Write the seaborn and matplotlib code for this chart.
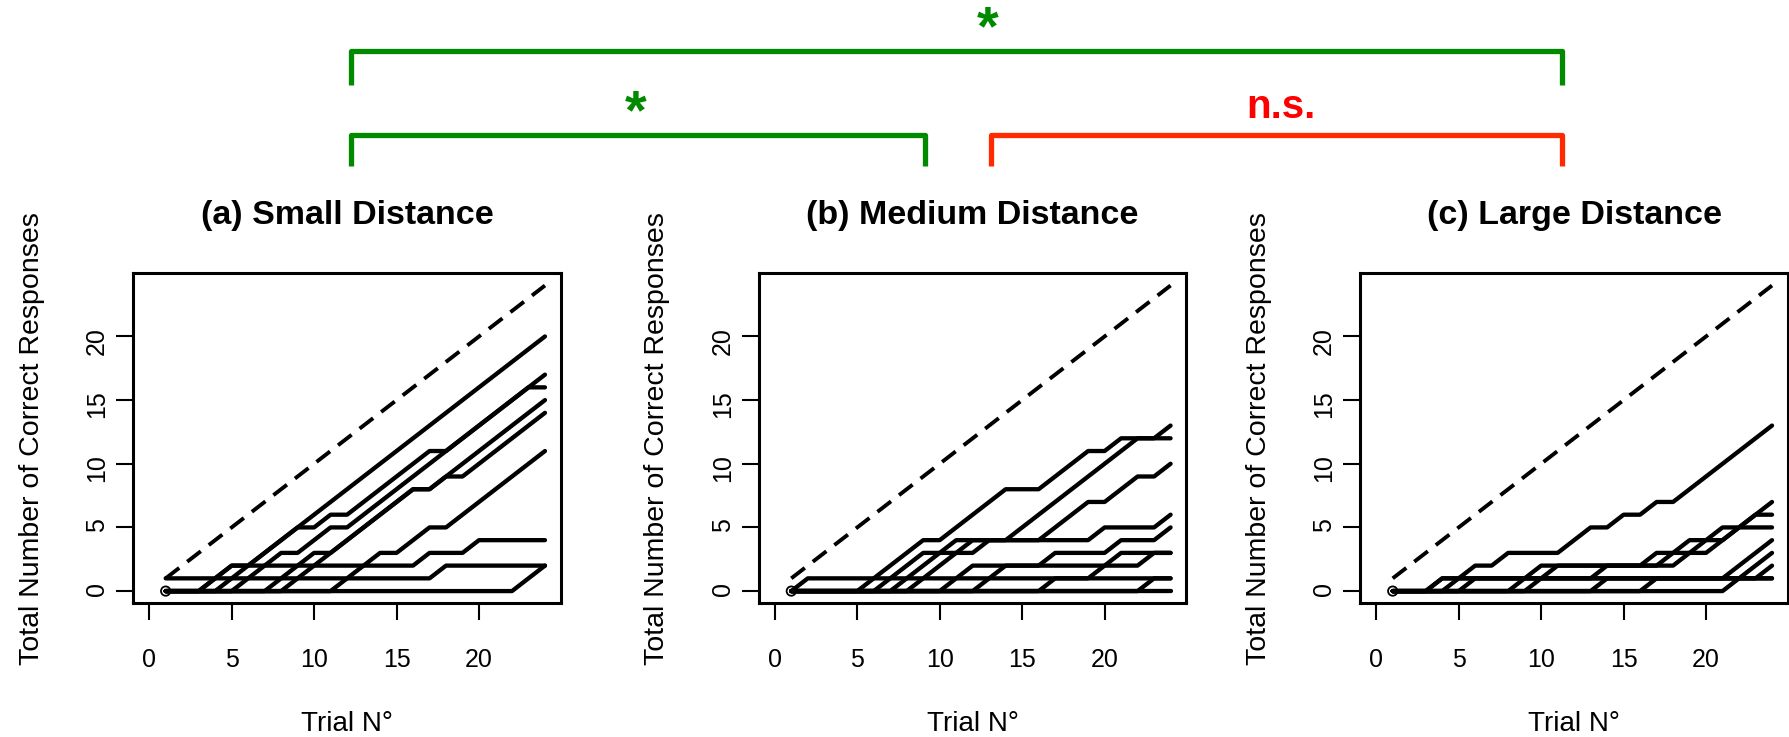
import matplotlib
matplotlib.use("Agg")
from matplotlib import pyplot as plt
import pandas as pd
import seaborn as sns

# trial numbers and the "always correct" reference line
trials = [1, 2, 3, 4, 5, 6, 7, 8, 9, 10, 11, 12, 13, 14, 15, 16, 17, 18, 19, 20, 21, 22, 23, 24]
optimal = [1, 2, 3, 4, 5, 6, 7, 8, 9, 10, 11, 12, 13, 14, 15, 16, 17, 18, 19, 20, 21, 22, 23, 24]
origin_trial = [1]
origin_score = [0]

# cumulative correct responses per subject
small = [
    [0, 0, 0, 0, 1, 2, 3, 4, 5, 6, 7, 8, 9, 10, 11, 12, 13, 14, 15, 16, 17, 18, 19, 20],
    [0, 0, 0, 1, 2, 2, 3, 4, 5, 5, 6, 6, 7, 8, 9, 10, 11, 11, 12, 13, 14, 15, 16, 17],
    [0, 0, 0, 0, 0, 1, 2, 3, 3, 4, 5, 5, 6, 7, 8, 9, 10, 11, 12, 13, 14, 15, 16, 16],
    [0, 0, 0, 0, 0, 0, 0, 1, 2, 3, 3, 4, 5, 6, 7, 8, 8, 9, 10, 11, 12, 13, 14, 15],
    [0, 0, 0, 0, 0, 0, 0, 0, 1, 2, 3, 4, 5, 6, 7, 8, 8, 9, 9, 10, 11, 12, 13, 14],
    [0, 0, 0, 0, 0, 0, 0, 0, 0, 0, 0, 1, 2, 3, 3, 4, 5, 5, 6, 7, 8, 9, 10, 11],
    [0, 0, 0, 1, 2, 2, 2, 2, 2, 2, 2, 2, 2, 2, 2, 2, 3, 3, 3, 4, 4, 4, 4, 4],
    [1, 1, 1, 1, 1, 1, 1, 1, 1, 1, 1, 1, 1, 1, 1, 1, 1, 2, 2, 2, 2, 2, 2, 2],
    [0, 0, 0, 0, 0, 0, 0, 0, 0, 0, 0, 0, 0, 0, 0, 0, 0, 0, 0, 0, 0, 0, 1, 2],
]
medium = [
    [0, 0, 0, 0, 0, 1, 2, 3, 4, 4, 5, 6, 7, 8, 8, 8, 9, 10, 11, 11, 12, 12, 12, 13],
    [0, 0, 0, 0, 0, 0, 1, 2, 3, 3, 3, 3, 4, 4, 5, 6, 7, 8, 9, 10, 11, 12, 12, 12],
    [0, 0, 0, 0, 0, 0, 0, 0, 1, 2, 3, 4, 4, 4, 4, 4, 5, 6, 7, 7, 8, 9, 9, 10],
    [0, 0, 0, 0, 0, 0, 0, 1, 2, 3, 4, 4, 4, 4, 4, 4, 4, 4, 4, 5, 5, 5, 5, 6],
    [0, 0, 0, 0, 0, 0, 0, 0, 0, 0, 1, 2, 2, 2, 2, 2, 3, 3, 3, 3, 4, 4, 4, 5],
    [0, 0, 0, 0, 0, 0, 0, 0, 0, 0, 0, 0, 1, 2, 2, 2, 2, 2, 2, 2, 2, 2, 3, 3],
    [0, 0, 0, 0, 0, 0, 0, 0, 0, 0, 0, 0, 0, 0, 0, 0, 1, 1, 1, 2, 3, 3, 3, 3],
    [0, 1, 1, 1, 1, 1, 1, 1, 1, 1, 1, 1, 1, 1, 1, 1, 1, 1, 1, 1, 1, 1, 1, 1],
    [0, 0, 0, 0, 0, 0, 0, 0, 0, 0, 0, 0, 0, 0, 0, 0, 0, 0, 0, 0, 0, 0, 1, 1],
    [0, 0, 0, 0, 0, 0, 0, 0, 0, 0, 0, 0, 0, 0, 0, 0, 0, 0, 0, 0, 0, 0, 0, 0],
]
large = [
    [0, 0, 0, 1, 1, 2, 2, 3, 3, 3, 3, 4, 5, 5, 6, 6, 7, 7, 8, 9, 10, 11, 12, 13],
    [0, 0, 0, 0, 0, 0, 0, 0, 0, 1, 2, 2, 2, 2, 2, 2, 3, 3, 3, 3, 4, 5, 6, 7],
    [0, 0, 0, 0, 1, 1, 1, 1, 1, 1, 1, 1, 1, 2, 2, 2, 2, 2, 3, 4, 4, 5, 6, 6],
    [0, 0, 0, 0, 0, 0, 0, 0, 1, 2, 2, 2, 2, 2, 2, 2, 2, 3, 4, 4, 5, 5, 5, 5],
    [0, 0, 0, 0, 0, 1, 1, 1, 1, 1, 1, 1, 1, 1, 1, 1, 1, 1, 1, 1, 1, 2, 3, 4],
    [0, 0, 0, 0, 0, 0, 0, 0, 0, 0, 0, 0, 0, 1, 1, 1, 1, 1, 1, 1, 1, 1, 2, 3],
    [0, 0, 0, 1, 1, 1, 1, 1, 1, 1, 1, 1, 1, 1, 1, 1, 1, 1, 1, 1, 1, 1, 1, 2],
    [0, 0, 0, 0, 0, 0, 0, 0, 0, 0, 0, 0, 0, 0, 0, 0, 0, 0, 0, 0, 0, 1, 1, 1],
    [0, 0, 0, 0, 0, 0, 0, 0, 0, 0, 0, 0, 0, 0, 0, 0, 1, 1, 1, 1, 1, 1, 1, 1],
]

titles = ["(a) Small Distance", "(b) Medium Distance", "(c) Large Distance"]
x_ticks = [0, 5, 10, 15, 20]
y_ticks = [0, 5, 10, 15, 20]

sns.set_theme(style="ticks")
plt.rcParams["font.family"] = ["Liberation Sans", "DejaVu Sans"]
plt.rcParams["text.color"] = "black"
plt.rcParams["axes.labelcolor"] = "black"

fig = plt.figure(figsize=(17.9, 7.37), dpi=100)

# significance brackets, drawn in pixel coordinates on an overlay
ov = fig.add_axes([0, 0, 1, 1])
ov.set_xlim(0, 1790)
ov.set_ylim(737, 0)
ov.axis("off")
green = "#008a00"
red = "#ff2a00"
bk = dict(lw=3.8, solid_joinstyle="round", solid_capstyle="butt")
ov.plot([351, 351, 1562, 1562], [85, 50.5, 50.5, 85], color=green, **bk)
ov.plot([351, 351, 925, 925], [166, 134.5, 134.5, 166], color=green, **bk)
ov.plot([991.5, 991.5, 1562, 1562], [166, 134.5, 134.5, 166], color=red, **bk)
ov.text(988, 44, "*", color=green, fontsize=40, fontweight="bold", ha="center", va="baseline")
ov.text(636, 128, "*", color=green, fontsize=40, fontweight="bold", ha="center", va="baseline")
ov.text(1280.5, 118, "n.s.", color="#ff0000", fontsize=29, fontweight="bold", ha="center", va="baseline")

lefts = [0.0745, 0.4240, 0.7600]
for left, title, runs in zip(lefts, titles, [small, medium, large]):
    ax = fig.add_axes([left, 0.1814, 0.2388, 0.4478])
    rows = []
    for i, run in enumerate(runs):
        for t, v in zip(trials, run):
            rows.append((i, t, v))
    df = pd.DataFrame(rows, columns=["subject", "trial", "correct"])

    ax.scatter(origin_trial, origin_score, s=45, facecolors="none", edgecolors="black", linewidths=1.3, zorder=1)
    sns.lineplot(data=df, x="trial", y="correct", units="subject", estimator=None,
                 color="black", linewidth=3.1, ax=ax, zorder=2)
    sns.lineplot(x=trials, y=optimal, color="black", linewidth=2.8, linestyle=(0, (4.4, 2.6)), ax=ax, zorder=2)

    ax.set_xlim(-0.96, 24.96)
    ax.set_ylim(-0.96, 24.96)
    ax.set_xticks(x_ticks)
    ax.set_yticks(y_ticks)
    for s in ax.spines.values():
        s.set_linewidth(2.2)
        s.set_color("black")
    ax.tick_params(length=12, width=1.5, labelsize=18, color="black", labelcolor="black")
    ax.tick_params(axis="x", pad=20)
    ax.tick_params(axis="y", pad=5.5, labelrotation=90)

    ax.set_xlabel("Trial N°", fontsize=20)
    ax.xaxis.set_label_coords(0.5, -0.326)
    ax.set_ylabel("Total Number of Correct Responses", fontsize=20.5)
    ax.yaxis.set_label_coords(-0.207, 0.5)
    ax.text(0.5, 1.148, title, transform=ax.transAxes, ha="center", va="baseline",
            fontsize=24.5, fontweight="bold")

plt.savefig("out.png", dpi=100)
